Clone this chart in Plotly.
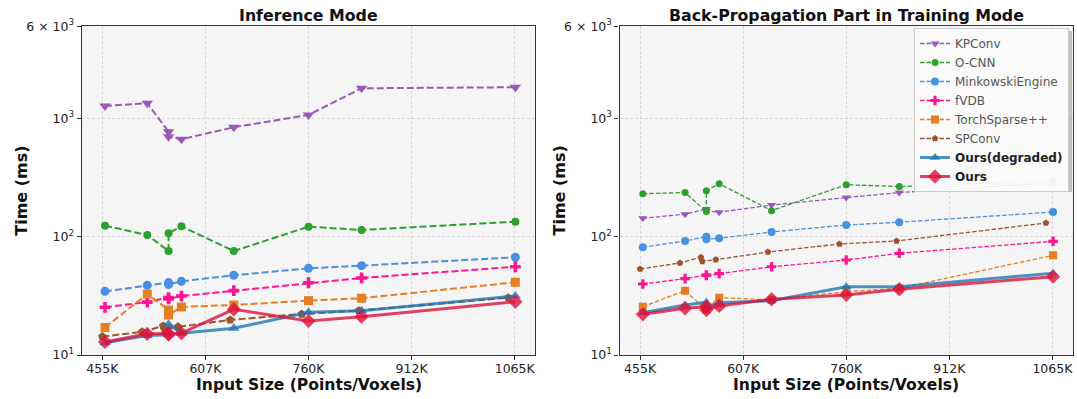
import plotly.graph_objects as go

# ---- data -----------------------------------------------------------------
# input sizes (thousands of points/voxels); SPConv counts its voxels slightly lower
x_main = [459, 521.5, 553, 553, 572, 649.5, 760, 838.5, 1066]
x_spconv = [455, 514, 545, 547, 567, 644, 750, 834.5, 1055.5]

x_tick_vals = [455, 607.5, 760, 912.5, 1065]
x_tick_text = ["455K", "607K", "760K", "912K", "1065K"]
y_tick_vals = [10, 100, 1000, 6000]
y_tick_text = ["10<sup>1</sup>", "10<sup>2</sup>", "10<sup>3</sup>", "6 × 10<sup>3</sup>"]

methods = ["KPConv", "O-CNN", "MinkowskiEngine", "fVDB", "TorchSparse++", "SPConv",
           "Ours(degraded)", "Ours"]

# inference time (ms)
kpconv_inf = [1274, 1342, 772, 700, 666, 841, 1069, 1796, 1833]
ocnn_inf = [123.9, 103.3, 75.6, 106.9, 122.4, 75.6, 121.5, 114.0, 133.9]
minkowski_inf = [34.5, 38.8, 40.9, 39.4, 42.0, 47.2, 54.0, 56.9, 67.0]
fvdb_inf = [25.3, 28.0, 30.6, 29.8, 31.5, 35.0, 40.8, 44.8, 55.7]
torchsparse_inf = [17.1, 32.8, 24.0, 21.8, 25.5, 26.5, 28.8, 30.2, 41.2]
spconv_inf = [14.3, 15.7, 17.6, 16.6, 17.3, 19.8, 22.2, 23.7, 30.5]
degraded_inf = [12.7, 14.6, 14.8, 18.2, 15.3, 16.8, 23.0, 23.7, 31.5]
ours_inf = [12.9, 15.1, 15.2, 14.9, 15.3, 24.3, 19.4, 21.1, 28.2]

# back-propagation time in training mode (ms)
kpconv_bp = [143, 155, 171, 165, 161, 185, 214, 236, 286]
ocnn_bp = [231, 236, 163, 245, 280, 166, 275, 265, 295]
minkowski_bp = [81.3, 92.0, 100.0, 95.0, 96.9, 109.6, 125.6, 132.4, 161.7]
fvdb_bp = [39.8, 44.2, 47.5, 47.0, 48.7, 55.7, 63.5, 72.4, 91.4]
torchsparse_bp = [25.6, 35.0, 24.0, 25.0, 30.5, 29.2, 34.3, 36.6, 69.6]
spconv_bp = [53.3, 59.9, 67.0, 61.9, 63.9, 74.2, 86.8, 92.0, 130.5]
degraded_bp = [22.8, 26.5, 27.9, 25.5, 27.7, 28.8, 37.8, 37.8, 49.1]
ours_bp = [22.1, 24.8, 25.6, 24.0, 26.0, 29.6, 32.2, 35.9, 45.9]

# ---- styles ---------------------------------------------------------------
colors = {
    "KPConv": "#9b59b6", "O-CNN": "#2ca02c", "MinkowskiEngine": "#4a90e2",
    "fVDB": "#ff1493", "TorchSparse++": "#e67e22", "SPConv": "#a0522d",
    "Ours(degraded)": "rgba(31,119,180,0.8)", "Ours": "rgba(220,20,60,0.8)",
}
symbols = {
    "KPConv": "triangle-down", "O-CNN": "circle", "MinkowskiEngine": "circle",
    "fVDB": "cross", "TorchSparse++": "square", "SPConv": "pentagon",
    "Ours(degraded)": "triangle-up", "Ours": "diamond",
}
sizes_left = {"KPConv": 10, "O-CNN": 8, "MinkowskiEngine": 9, "fVDB": 9,
              "TorchSparse++": 9, "SPConv": 9, "Ours(degraded)": 10, "Ours": 11}
sizes_right = {"KPConv": 8, "O-CNN": 7, "MinkowskiEngine": 8, "fVDB": 8,
               "TorchSparse++": 8, "SPConv": 7, "Ours(degraded)": 9, "Ours": 11}

inf_series = [kpconv_inf, ocnn_inf, minkowski_inf, fvdb_inf, torchsparse_inf,
              spconv_inf, degraded_inf, ours_inf]
bp_series = [kpconv_bp, ocnn_bp, minkowski_bp, fvdb_bp, torchsparse_bp,
             spconv_bp, degraded_bp, ours_bp]

FONT = "DejaVu Sans"
W, H = 1077, 399


def legend_name(m):
    if m.startswith("Ours"):
        return f"<b>{m}</b>"
    return f"<span style='color:#555555'>{m}</span>"


fig = go.Figure()

for panel, series, sizes, xa, ya in [
    ("inf", inf_series, sizes_left, "x", "y"),
    ("bp", bp_series, sizes_right, "x2", "y2"),
]:
    for m, ys in zip(methods, series):
        ours = m.startswith("Ours")
        xs = x_spconv if m == "SPConv" else x_main
        if ours:
            line = dict(color=colors[m], width=3)
        else:
            line = dict(color=colors[m], width=2 if panel == "inf" else 1.3,
                        dash="7px,3px" if panel == "inf" else "4.5px,2px")
        fig.add_trace(go.Scatter(
            x=xs, y=ys, mode="lines+markers", name=legend_name(m),
            xaxis=xa, yaxis=ya, line=line,
            marker=dict(symbol=symbols[m], size=sizes[m], color=colors[m]),
            showlegend=(panel == "bp"), legendrank=methods.index(m) + 1,
        ))

xdom_l = [81.7 / W, 535.3 / W]
xdom_r = [619.5 / W, 1073 / W]
ydom = [1 - 355 / H, 1 - 26.3 / H]

axis_common = dict(
    showline=True, linecolor="#333333", linewidth=1.2, mirror=True,
    ticks="outside", ticklen=4, tickwidth=1, tickcolor="#333333",
    showgrid=True, gridcolor="#d8d8d8", gridwidth=0.8, griddash="3px,2px",
    zeroline=False, automargin=False,
    tickfont=dict(family=FONT, size=12.5, color="#222222"),
)
xaxis_kw = dict(axis_common, range=[424.5, 1095.5], tickmode="array",
                tickvals=x_tick_vals, ticktext=x_tick_text, domain=xdom_l,
                ticklabelstandoff=-2)
yaxis_kw = dict(axis_common, type="log", range=[1, 3.77815], tickmode="array",
                tickvals=y_tick_vals, ticktext=y_tick_text, domain=ydom)

# legend frame (top-right of the right panel) with a soft drop shadow
LEG_TOP, LEG_RIGHT, LEG_W, LEG_H = 28, 1069, 157, 161

fig.update_layout(
    width=W, height=H,
    margin=dict(l=0, r=0, t=0, b=0),
    paper_bgcolor="white", plot_bgcolor="#f5f5f5",
    font=dict(family=FONT, color="#222222"),
    xaxis=dict(xaxis_kw, anchor="y"),
    yaxis=dict(yaxis_kw, anchor="x"),
    xaxis2=dict(xaxis_kw, anchor="y2", domain=xdom_r),
    yaxis2=dict(yaxis_kw, anchor="x2"),
    legend=dict(
        x=LEG_RIGHT / W, y=1 - LEG_TOP / H, xanchor="right", yanchor="top",
        bgcolor="rgba(255,255,255,0.92)", bordercolor="#cccccc", borderwidth=1,
        font=dict(family=FONT, size=12, color="#222222"),
        tracegroupgap=0, itemwidth=30,
    ),
    showlegend=True,
    shapes=[dict(
        type="rect", xref="paper", yref="paper", layer="above",
        x0=(LEG_RIGHT - LEG_W + 3) / W, x1=(LEG_RIGHT + 3) / W,
        y0=1 - (LEG_TOP + LEG_H + 3) / H, y1=1 - (LEG_TOP + 3) / H,
        fillcolor="rgba(0,0,0,0.22)", line=dict(width=0),
    )],
)

annotations = []
for dom, title in [(xdom_l, "Inference Mode"),
                   (xdom_r, "Back-Propagation Part in Training Mode")]:
    cx = (dom[0] + dom[1]) / 2
    annotations.append(dict(text=f"<b>{title}</b>", x=cx, y=1 - 15 / H,
                            xref="paper", yref="paper", showarrow=False,
                            xanchor="center", yanchor="middle",
                            font=dict(family=FONT, size=15.8, color="#111111")))
    annotations.append(dict(text="<b>Input Size (Points/Voxels)</b>", x=cx,
                            y=1 - 385 / H, xref="paper", yref="paper",
                            showarrow=False, xanchor="center", yanchor="middle",
                            font=dict(family=FONT, size=15.6, color="#111111")))
    annotations.append(dict(text="<b>Time (ms)</b>", x=(dom[0] * W - 61) / W,
                            y=1 - 191 / H, xref="paper", yref="paper",
                            showarrow=False, xanchor="center", yanchor="middle",
                            textangle=-90,
                            font=dict(family=FONT, size=16, color="#111111")))
fig.update_layout(annotations=annotations)

fig.write_html("out.html")
